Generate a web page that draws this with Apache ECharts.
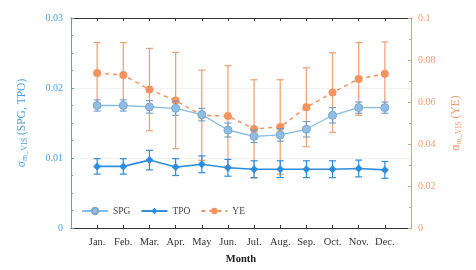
<!DOCTYPE html>
<html>
<head>
<meta charset="utf-8">
<script src="https://cdn.jsdelivr.net/npm/echarts@6/dist/echarts.min.js"></script>
<style>
html,body{margin:0;padding:0;background:#fff;}
#c{width:476px;height:270px;}
</style>
</head>
<body>
<div id="c"></div>
<script>
const months = ['Jan.','Feb.','Mar.','Apr.','May','Jun.','Jul.','Aug.','Sep.','Oct.','Nov.','Dec.'];
const spg    = [0.0175,0.0175,0.0173,0.0171,0.0162,0.0140,0.0131,0.0133,0.0141,0.0161,0.0172,0.0172];
const spgErr = [0.0008,0.0008,0.0009,0.0010,0.0009,0.0010,0.0009,0.0009,0.0011,0.0011,0.0008,0.0008];
const tpo    = [0.0088,0.0088,0.0097,0.0087,0.0091,0.0086,0.0084,0.0084,0.0084,0.0084,0.0085,0.0083];
const tpoErr = [0.0011,0.0011,0.0014,0.0012,0.0012,0.0012,0.0012,0.0012,0.0012,0.0012,0.0012,0.0012];
const ye     = [0.0738,0.0729,0.0659,0.0607,0.0537,0.0533,0.0472,0.0481,0.0575,0.0645,0.0710,0.0734];
const yeErr  = [0.0145,0.0154,0.0196,0.0229,0.0215,0.0240,0.0234,0.0225,0.0188,0.0190,0.0173,0.0152];
const leftTicks  = [0, 0.01, 0.02, 0.03];
const rightTicks = [0, 0.02, 0.04, 0.06, 0.08, 0.1];

const FONT = "'Liberation Serif','Times New Roman',serif";
const BLUE_L = '#86bbe6';
const BLUE_D = '#2f8ddd';
const ORANGE = '#f4935f';
const AXIS_BLUE = '#4b9fe2';
const AXIS_OR = '#f39b70';
const monthPos = months.map((m, i) => i + 1);

function errRender(color, capW, lw) {
  return function (params, api) {
    const x = api.value(0), lo = api.value(1), hi = api.value(2);
    const p1 = api.coord([x, lo]), p2 = api.coord([x, hi]);
    const st = { stroke: color, lineWidth: lw };
    return {
      type: 'group',
      children: [
        { type: 'line', shape: { x1: p1[0], y1: p1[1], x2: p2[0], y2: p2[1] }, style: st },
        { type: 'line', shape: { x1: p1[0] - capW, y1: p1[1], x2: p1[0] + capW, y2: p1[1] }, style: st },
        { type: 'line', shape: { x1: p2[0] - capW, y1: p2[1], x2: p2[0] + capW, y2: p2[1] }, style: st }
      ]
    };
  };
}
const errData = (vals, errs) => vals.map((v, i) => [i + 1, v - errs[i], v + errs[i]]);
const lineData = vals => vals.map((v, i) => [i + 1, v]);

const chart = echarts.init(document.getElementById('c'), null, { renderer: 'canvas' });
chart.setOption({
  animation: false,
  backgroundColor: '#fff',
  textStyle: { fontFamily: FONT },
  grid: { left: 71, right: 65, top: 18, bottom: 38, containLabel: false },
  legend: {
    data: ['SPG', 'TPO', 'YE'],
    left: 76, top: 201,
    itemWidth: 26, itemHeight: 8, itemGap: 10,
    textStyle: { fontFamily: FONT, fontSize: 9.5, color: '#444' }
  },
  xAxis: [{
    type: 'value', min: 0, max: 13, interval: 1,
    name: 'Month', nameLocation: 'middle', nameGap: 26,
    nameTextStyle: { fontFamily: FONT, fontSize: 10.5, fontWeight: 'bold', color: '#222' },
    axisLine: { show: true, onZero: false, lineStyle: { color: '#333', width: 1 } },
    axisTick: { show: true, inside: true, length: 3, customValues: monthPos, lineStyle: { color: '#333' } },
    axisLabel: { customValues: monthPos, formatter: v => months[v - 1] || '', fontFamily: FONT, fontSize: 10.5, color: '#333', margin: 9 },
    splitLine: { show: false }
  }, {
    type: 'value', min: 0, max: 13, interval: 1, position: 'top',
    axisLine: { show: true, onZero: false, lineStyle: { color: '#333', width: 1 } },
    axisTick: { show: true, inside: true, length: 3, customValues: monthPos, lineStyle: { color: '#333' } },
    axisLabel: { show: false },
    splitLine: { show: false }
  }],
  yAxis: [{
    type: 'value', min: 0, max: 0.03, interval: 0.01, position: 'left',
    name: '{a|σ}{s|m_VIS}{a| (SPG, TPO)}', nameLocation: 'middle', nameGap: 42,
    nameTextStyle: {
      color: AXIS_BLUE, fontFamily: FONT,
      rich: {
        a: { fontSize: 11.5, color: AXIS_BLUE, fontFamily: FONT, lineHeight: 14, verticalAlign: 'middle' },
        s: { fontSize: 8, color: AXIS_BLUE, fontFamily: FONT, lineHeight: 14, verticalAlign: 'bottom' }
      }
    },
    axisLine: { show: true, onZero: false, lineStyle: { color: AXIS_BLUE, width: 1 } },
    axisTick: { show: true, inside: true, length: 3, lineStyle: { color: AXIS_BLUE } },
    minorTick: { show: true, splitNumber: 4, length: 2, lineStyle: { color: AXIS_BLUE } },
    axisLabel: { formatter: v => leftTicks.includes(+v.toFixed(4)) ? String(+v.toFixed(4)) : '', color: AXIS_BLUE, fontFamily: FONT, fontSize: 10, margin: 8 },
    splitLine: { show: true, lineStyle: { color: '#f1f1f1', width: 1 } }
  }, {
    type: 'value', min: 0, max: 0.1, interval: 0.02, position: 'right',
    name: '{a|α}{s|m_VIS}{a| (YE)}', nameLocation: 'middle', nameGap: 38,
    nameTextStyle: {
      color: AXIS_OR, fontFamily: FONT,
      rich: {
        a: { fontSize: 11.5, color: AXIS_OR, fontFamily: FONT, lineHeight: 14, verticalAlign: 'middle' },
        s: { fontSize: 8, color: AXIS_OR, fontFamily: FONT, lineHeight: 14, verticalAlign: 'bottom' }
      }
    },
    axisLine: { show: true, onZero: false, lineStyle: { color: AXIS_OR, width: 1 } },
    axisTick: { show: true, inside: true, length: 3, lineStyle: { color: AXIS_OR } },
    minorTick: { show: true, splitNumber: 2, length: 2, lineStyle: { color: AXIS_OR } },
    axisLabel: { formatter: v => rightTicks.includes(+v.toFixed(4)) ? String(+v.toFixed(4)) : '', color: AXIS_OR, fontFamily: FONT, fontSize: 10, margin: 7 },
    splitLine: { show: false }
  }],
  series: [
    {
      name: 'YE-err', type: 'custom', xAxisIndex: 0, yAxisIndex: 1, z: 1,
      renderItem: errRender('#f3a37c', 3.5, 1.3),
      data: errData(ye, yeErr), silent: true
    },
    {
      name: 'YE', type: 'line', xAxisIndex: 0, yAxisIndex: 1, z: 2,
      data: lineData(ye),
      symbol: 'circle', symbolSize: 8,
      itemStyle: { color: ORANGE },
      lineStyle: { color: ORANGE, width: 1.5, type: [4, 4] }
    },
    {
      name: 'SPG-err', type: 'custom', xAxisIndex: 0, yAxisIndex: 0, z: 3,
      renderItem: errRender('#6f9cc4', 3.5, 1.1),
      data: errData(spg, spgErr), silent: true
    },
    {
      name: 'SPG', type: 'line', xAxisIndex: 0, yAxisIndex: 0, z: 4,
      data: lineData(spg),
      symbol: 'circle', symbolSize: 8,
      itemStyle: { color: '#8fbde3', borderColor: '#7ea6c8', borderWidth: 1 },
      lineStyle: { color: BLUE_L, width: 1.3 }
    },
    {
      name: 'TPO-err', type: 'custom', xAxisIndex: 0, yAxisIndex: 0, z: 3,
      renderItem: errRender(BLUE_D, 3.5, 1.2),
      data: errData(tpo, tpoErr), silent: true
    },
    {
      name: 'TPO', type: 'line', xAxisIndex: 0, yAxisIndex: 0, z: 4,
      data: lineData(tpo),
      symbol: 'diamond', symbolSize: 8,
      itemStyle: { color: BLUE_D },
      lineStyle: { color: BLUE_D, width: 1.6 }
    }
  ]
});
</script>
</body>
</html>
